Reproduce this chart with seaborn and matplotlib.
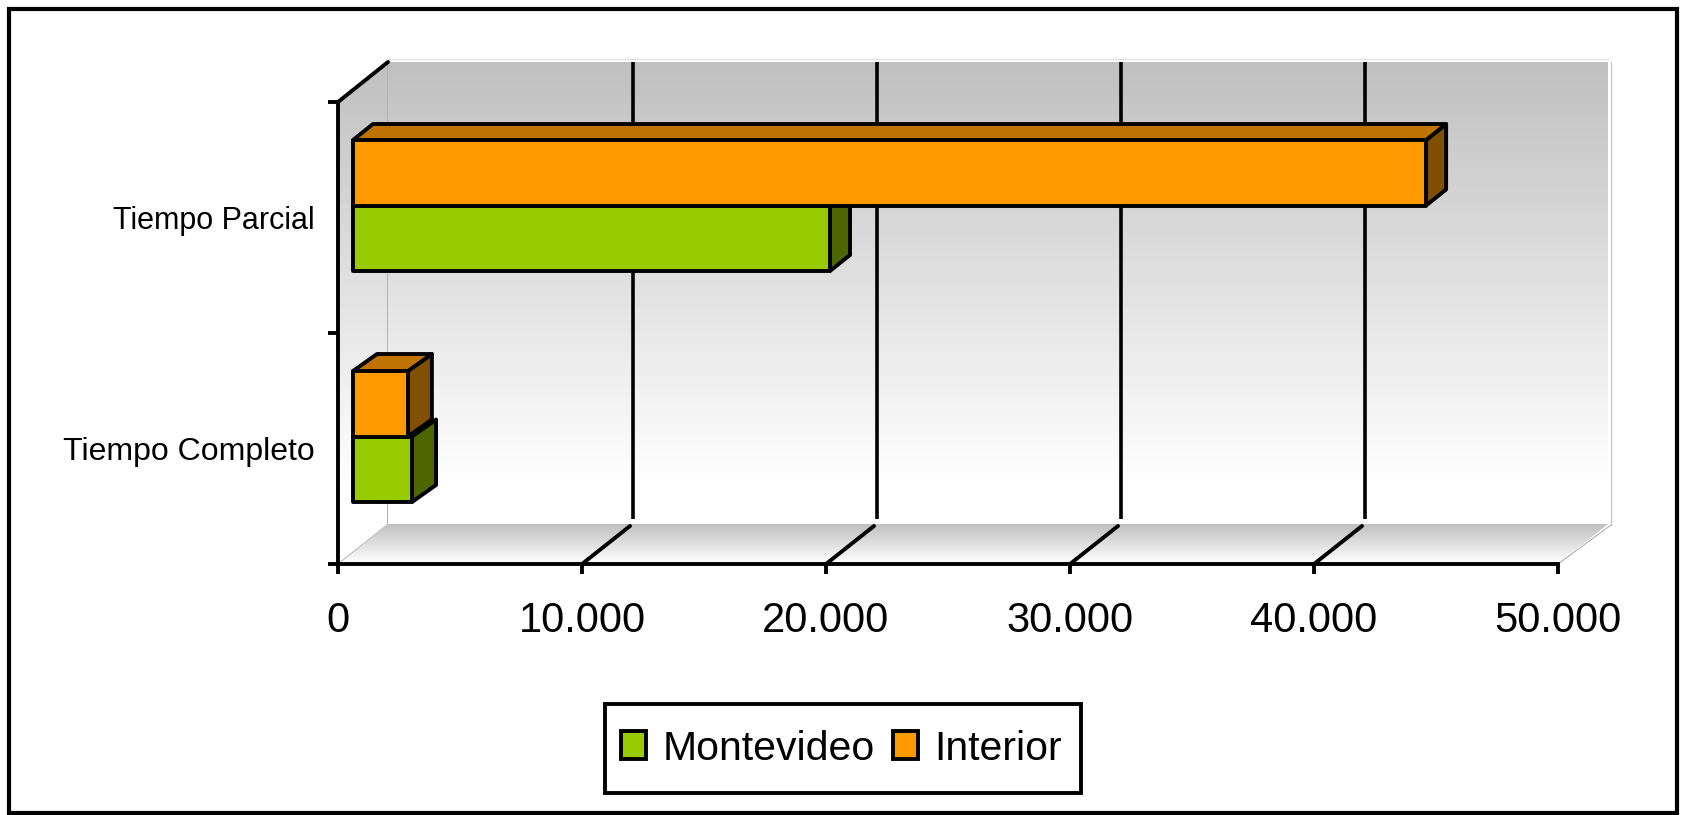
import numpy as np
import pandas as pd
import seaborn as sns
import matplotlib
matplotlib.use("Agg")
import matplotlib.pyplot as plt
from matplotlib.patches import Polygon, Patch, Rectangle
from matplotlib.transforms import Affine2D

categories = ["Tiempo Parcial", "Tiempo Completo"]
montevideo = [19550, 2420]
interior = [43980, 2250]
series_names = ["Montevideo", "Interior"]
colors = {"Montevideo": "#99CC00", "Interior": "#FF9900"}
top_colors = {"Montevideo": "#739900", "Interior": "#BF7300"}
side_colors = {"Montevideo": "#4D6600", "Interior": "#805000"}
x_ticks = [0, 10000, 20000, 30000, 40000, 50000]
x_tick_labels = ["0", "10.000", "20.000", "30.000", "40.000", "50.000"]

df = pd.DataFrame({
    "categoria": categories * 2,
    "region": ["Montevideo"] * 2 + ["Interior"] * 2,
    "valor": montevideo + interior,
})

sns.set_style("white")
plt.rcParams["font.family"] = ["Liberation Sans", "DejaVu Sans"]

W, H = 1686, 815
fig = plt.figure(figsize=(W / 100, H / 100), dpi=100, facecolor="white")

# pixel-space layer for the 3D walls and frame
bg = fig.add_axes([0, 0, 1, 1], zorder=0)
bg.set_xlim(0, W)
bg.set_ylim(H, 0)
bg.axis("off")

AX_L, AX_R, AX_T, AX_B = 338, 1558, 102, 564
DX, DY = 50, 40
BAR_DX, BAR_DY = 15, 12
BAR_DEPTH_X = {0: 20, 1: 24}
BAR_DEPTH_Y = {0: 16, 1: 17}
LW = 2.8


def gradient(y0, y1, x0, x1, clip, g0=0.75, g1=1.0, white_at=1.0):
    n = 120
    t = np.clip(np.linspace(0, 1, n) / white_at, 0, 1)
    vals = g0 + (g1 - g0) * t
    im = bg.imshow(vals[:, None], extent=[x0, x1, y1, y0], cmap="gray", vmin=0, vmax=1,
                   aspect="auto", interpolation="nearest", zorder=1)
    im.set_clip_path(Polygon(clip, closed=True, transform=bg.transData))


BL, BR, BT, BB = AX_L + DX, AX_R + DX, AX_T - DY, AX_B - DY
gradient(BT, BB, BL, BR, [(BL, BT), (BR, BT), (BR, BB), (BL, BB)], white_at=0.93)
gradient(BT, BB, AX_L, BL, [(AX_L, AX_T), (BL, BT), (BL, BB), (AX_L, AX_B)], white_at=0.93)
gradient(BB, AX_B, AX_L, BR, [(AX_L, AX_B), (BL, BB), (BR, BB), (AX_R, AX_B)])
bg.set_xlim(0, W)
bg.set_ylim(H, 0)

edge = "#C8C8C8"
bg.plot([BL - 1, BL - 1], [BT, BB], color="#B4B4B4", lw=0.8, zorder=2)
bg.plot([BL - 2, BR + 1], [BT - 3, BT - 3], color="#E2E2E2", lw=1.0, zorder=2)
bg.plot([BR + 3, BR + 3], [BT, BB + 1], color=edge, lw=1.0, zorder=2)
bg.plot([AX_R, BR + 3], [AX_B, BB + 1], color="#9A9A9A", lw=0.6, zorder=2)
bg.plot([AX_L, BL - 1], [AX_B, BB + 1], color="#BEBEBE", lw=0.8, zorder=2)

bg.add_patch(Rectangle((9, 8.5), 1668, 804.5, fill=False, ec="black", lw=3.0, zorder=10))

# main chart
ax = fig.add_axes([AX_L / W, 1 - AX_B / H, (AX_R - AX_L) / W, (AX_B - AX_T) / H], zorder=1)
ax.patch.set_alpha(0)
sns.barplot(data=df, y="categoria", x="valor", hue="region", order=categories,
            hue_order=["Interior", "Montevideo"], palette=colors, width=0.567, gap=0,
            edgecolor="black", linewidth=LW, legend=False, saturation=1, ax=ax, orient="y")
ax.set_xlim(0, 50000)
ax.set_ylim(1.5, -0.5)
ax.set_xlabel("")
ax.set_ylabel("")

ax.set_xticks(x_ticks)
ax.set_xticklabels(x_tick_labels, fontsize=30, color="black")
ax.set_yticks([-0.5, 0.5, 1.5])
ax.set_yticklabels([])
ax.set_yticks([0, 1], minor=True)
ylabels = ax.set_yticklabels(categories, minor=True, fontsize=23, color="black")
ylabels[0].set_fontsize(22)
ax.tick_params(axis="x", which="major", length=7.5, width=2.8, color="black", pad=19, bottom=True)
ax.tick_params(axis="y", which="major", length=7.5, width=2.8, color="black", left=True)
ax.tick_params(axis="y", which="minor", length=0, pad=16.5, left=False)
for name, sp in ax.spines.items():
    sp.set_visible(name in ("left", "bottom"))
    sp.set_color("black")
    sp.set_linewidth(2.8)
    sp.set_zorder(8)

# vertical axis depth edge, gridlines on the back wall and floor
to_disp = ax.transData
def px(x, y):
    return to_disp.transform((x, y))

lx, ly = px(0, -0.5)
ax.plot([lx, lx + DX], [ly, ly + DY], transform=None, color="black", lw=2.8,
        solid_capstyle="round", clip_on=False, zorder=2)
for v in x_ticks[1:-1]:
    x0, y0 = px(v, 1.5)
    ax.plot([x0, x0 + DX - 2], [y0, y0 + DY - 2], transform=None, color="black", lw=2.8,
            solid_capstyle="round", clip_on=False, zorder=2)
    x1, _ = px(v, -0.5)
    ax.plot([x1 + DX + 1, x1 + DX + 1], [H - BT, y0 + DY + 5], transform=None, color="black", lw=2.6,
            solid_capstyle="butt", clip_on=False, zorder=2)

# bars: shift to their depth slot and add the side and top faces
shift = Affine2D().translate(BAR_DX, BAR_DY)
order = ["Interior", "Montevideo"]
face_z = {"Interior": 7, "Montevideo": 6}
side_z = {"Interior": 4, "Montevideo": 5}
for name, container in zip(order, ax.containers):
    for i, bar in enumerate(container):
        bar.set_transform(ax.transData + shift)
        bar.set_zorder(face_z[name])
        bar.set_clip_on(False)
        bar.set_joinstyle("round")
        (x0, yb), (x1, yt) = (ax.transData + shift).transform(
            [(bar.get_x(), bar.get_y() + bar.get_height()), (bar.get_x() + bar.get_width(), bar.get_y())])
        ddx, ddy = BAR_DEPTH_X[i], BAR_DEPTH_Y[i]
        side = [(x1, yb), (x1 + ddx, yb + ddy), (x1 + ddx, yt + ddy), (x1, yt)]
        top = [(x0, yt), (x1, yt), (x1 + ddx, yt + ddy), (x0 + ddx, yt + ddy)]
        ax.add_patch(Polygon(side, closed=True, transform=None, fc=side_colors[name], ec="black",
                             lw=LW, zorder=side_z[name], clip_on=False, joinstyle="round"))
        if name == "Interior":
            ax.add_patch(Polygon(top, closed=True, transform=None, fc=top_colors[name], ec="black",
                                 lw=LW, zorder=side_z[name], clip_on=False, joinstyle="round"))

# legend: box drawn on the pixel layer, entries by matplotlib
bg.add_patch(Rectangle((605, 704), 476, 89, fc="white", ec="black", lw=2.8, zorder=9))
handles = [Patch(facecolor=colors[n], edgecolor="black", linewidth=2.8, label=n) for n in series_names]
leg = fig.legend(handles=handles, ncols=2, loc="center",
                 bbox_to_anchor=(841.5 / W, 1 - 748.5 / H), fontsize=29.5,
                 frameon=False, labelcolor="black",
                 handlelength=0.6, handleheight=0.66, handletextpad=0.41, columnspacing=0.45,
                 borderpad=0, borderaxespad=0)
leg.set_zorder(20)

fig.savefig("out.png", dpi=100, facecolor="white")
